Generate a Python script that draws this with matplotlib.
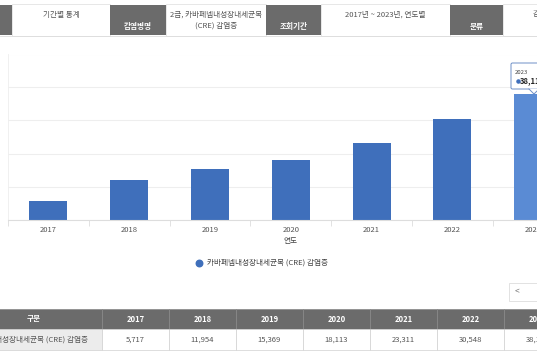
import matplotlib
matplotlib.use("Agg")
import matplotlib.pyplot as plt
from matplotlib.patches import Rectangle, Polygon, FancyBboxPatch

plt.rcParams['font.family'] = ['Noto Sans CJK KR', 'DejaVu Sans']

years = ["2017", "2018", "2019", "2020", "2021", "2022", "2023"]
values = [5717, 11954, 15369, 18113, 23311, 30548, 38115]
series_name = "카바페넴내성장내세균목 (CRE) 감염증"
yticks = [0, 10000, 20000, 30000, 40000, 50000]

W, H = 537, 360
fig = plt.figure(figsize=(W / 100, H / 100), dpi=100)
fig.patch.set_facecolor("white")

# ---- page decoration layer (pixel coordinates) ----
bg = fig.add_axes([0, 0, 1, 1])
bg.set_xlim(0, W)
bg.set_ylim(H, 0)
bg.axis("off")
bg.set_zorder(0)

dark = "#6b6b6b"
txtgray = "#555555"

# header row
cells = [(0, 12, True, ""), (12, 110, False, "기간별 통계"), (110, 166, True, "감염병명"),
         (166, 266, False, "2급, 카바페넴내성장내세균목\n(CRE) 감염증"), (266, 321, True, "조회기간"),
         (321, 450, False, "2017년 ~ 2023년, 연도별"), (450, 503, True, "분류"), (503, 560, False, "감염병")]
for x0, x1, isdark, label in cells:
    if isdark:
        bg.add_patch(Rectangle((x0, 5), x1 - x0, 30, facecolor=dark, edgecolor="none"))
        if label:
            bg.text((x0 + x1) / 2, 26, label, color="white", fontsize=5.5, fontweight="bold",
                    ha="center", va="center")
    else:
        bg.add_patch(Rectangle((x0, 4), x1 - x0, 31.5, facecolor="white", edgecolor="#e3e3e3", lw=0.6))
        if label:
            if x0 >= 503:
                bg.text(533, 14, label, color=txtgray, fontsize=5.5, ha="left", va="center")
            elif "\n" in label:
                l1, l2 = label.split("\n")
                bg.text((x0 + x1) / 2, 15, l1, color=txtgray, fontsize=5.5, ha="center", va="center")
                bg.text((x0 + x1) / 2, 26, l2, color=txtgray, fontsize=5.5, ha="center", va="center")
            else:
                bg.text((x0 + x1) / 2, 15, label, color=txtgray, fontsize=5.5, ha="center", va="center")
bg.plot([0, W], [36, 36], color="#dddddd", lw=0.6)

# legend
bg.scatter([199], [263], s=22, color="#3f6fbb", zorder=3)
bg.text(207, 263, series_name, color="#444444", fontsize=5.5, ha="left", va="center")

# small nav button
bg.add_patch(Rectangle((509, 283), 40, 18, facecolor="white", edgecolor="#dddddd", lw=0.6))
bg.text(517, 292, "<", color="#777777", fontsize=6, ha="center", va="center")

# data table
bounds = [-60, 102, 169, 236, 303, 370, 437, 504, 571]
hdr_top, hdr_bot, row_bot = 309, 329, 350
for i in range(len(bounds) - 1):
    x0, x1 = bounds[i], bounds[i + 1]
    bg.add_patch(Rectangle((x0, hdr_top), x1 - x0, hdr_bot - hdr_top, facecolor=dark,
                           edgecolor="#888888", lw=0.5))
    bg.add_patch(Rectangle((x0, hdr_bot), x1 - x0, row_bot - hdr_bot,
                           facecolor="#ececec" if i == 0 else "white", edgecolor="#d0d0d0", lw=0.5))
    cx = (x0 + x1) / 2
    if i == 0:
        bg.text(34, (hdr_top + hdr_bot) / 2, "구분", color="white", fontsize=5.5,
                fontweight="bold", ha="center", va="center")
        bg.text(88, (hdr_bot + row_bot) / 2, series_name, color=txtgray, fontsize=5.5,
                ha="right", va="center")
    else:
        bg.text(cx, (hdr_top + hdr_bot) / 2, years[i - 1], color="white", fontsize=5.5,
                fontweight="bold", ha="center", va="center")
        bg.text(cx, (hdr_bot + row_bot) / 2, f"{values[i - 1]:,}", color=txtgray, fontsize=5.5,
                ha="center", va="center")

# ---- chart axes ----
ax_left, ax_right = 8, W
ax_top, ax_bot = 54.5, 219.5
ax = fig.add_axes([ax_left / W, (H - ax_bot) / H, (ax_right - ax_left) / W, (ax_bot - ax_top) / H])
ax.set_zorder(1)
ax.patch.set_alpha(0)
x = list(range(len(years)))
colors = ["#3f6fbb"] * (len(years) - 1) + ["#5a8bd4"]
ax.bar(x, values, width=0.47, color=colors, zorder=2)
ax.set_yticks(yticks)
ax.yaxis.grid(True, color="#eeeeee", lw=0.8, zorder=0)
ax.tick_params(axis="y", left=False, labelleft=False)
ax.set_xticks(x)
ax.set_xticklabels(years, color="#555555", fontsize=5.5)
ax.set_xticks([i + 0.5 for i in [-1] + x], minor=True)
ax.tick_params(axis="x", which="major", length=0, pad=5)
ax.tick_params(axis="x", which="minor", length=4, color="#dddddd", width=0.6)
ax.set_xlim(-0.5, -0.5 + (ax_right - ax_left) / 80.8)
ax.set_ylim(0, 50000)
for s in ["top", "right"]:
    ax.spines[s].set_visible(False)
ax.spines["left"].set_color("#eeeeee")
ax.spines["left"].set_linewidth(0.6)
ax.spines["bottom"].set_color("#dddddd")
ax.spines["bottom"].set_linewidth(0.8)

fig.text(290 / W, 1 - 241.5 / H, "연도", color="#444444", fontsize=5.5, ha="center", va="center")

# tooltip on last bar
tip = fig.add_axes([0, 0, 1, 1])
tip.set_xlim(0, W)
tip.set_ylim(H, 0)
tip.axis("off")
tip.set_zorder(3)
tip.add_patch(FancyBboxPatch((511, 63), 40, 26, boxstyle="round,pad=0,rounding_size=1.5",
                             facecolor="white", edgecolor="#6d8fc7", lw=0.7))
tip.add_patch(Polygon([[529, 88.6], [539, 88.6], [534, 94]], closed=True, facecolor="white",
                      edgecolor="none"))
tip.plot([529, 534, 539], [89, 94, 89], color="#6d8fc7", lw=0.7)
tip.text(515, 72, years[-1], color="#444444", fontsize=4.3, ha="left", va="center")
tip.scatter([517.5], [81], s=5, color="#3f6fbb")
tip.text(520, 81, f"{values[-1]:,}", color="#222222", fontsize=5.5, fontweight="bold",
         ha="left", va="center")

fig.savefig("out.png", dpi=100)
